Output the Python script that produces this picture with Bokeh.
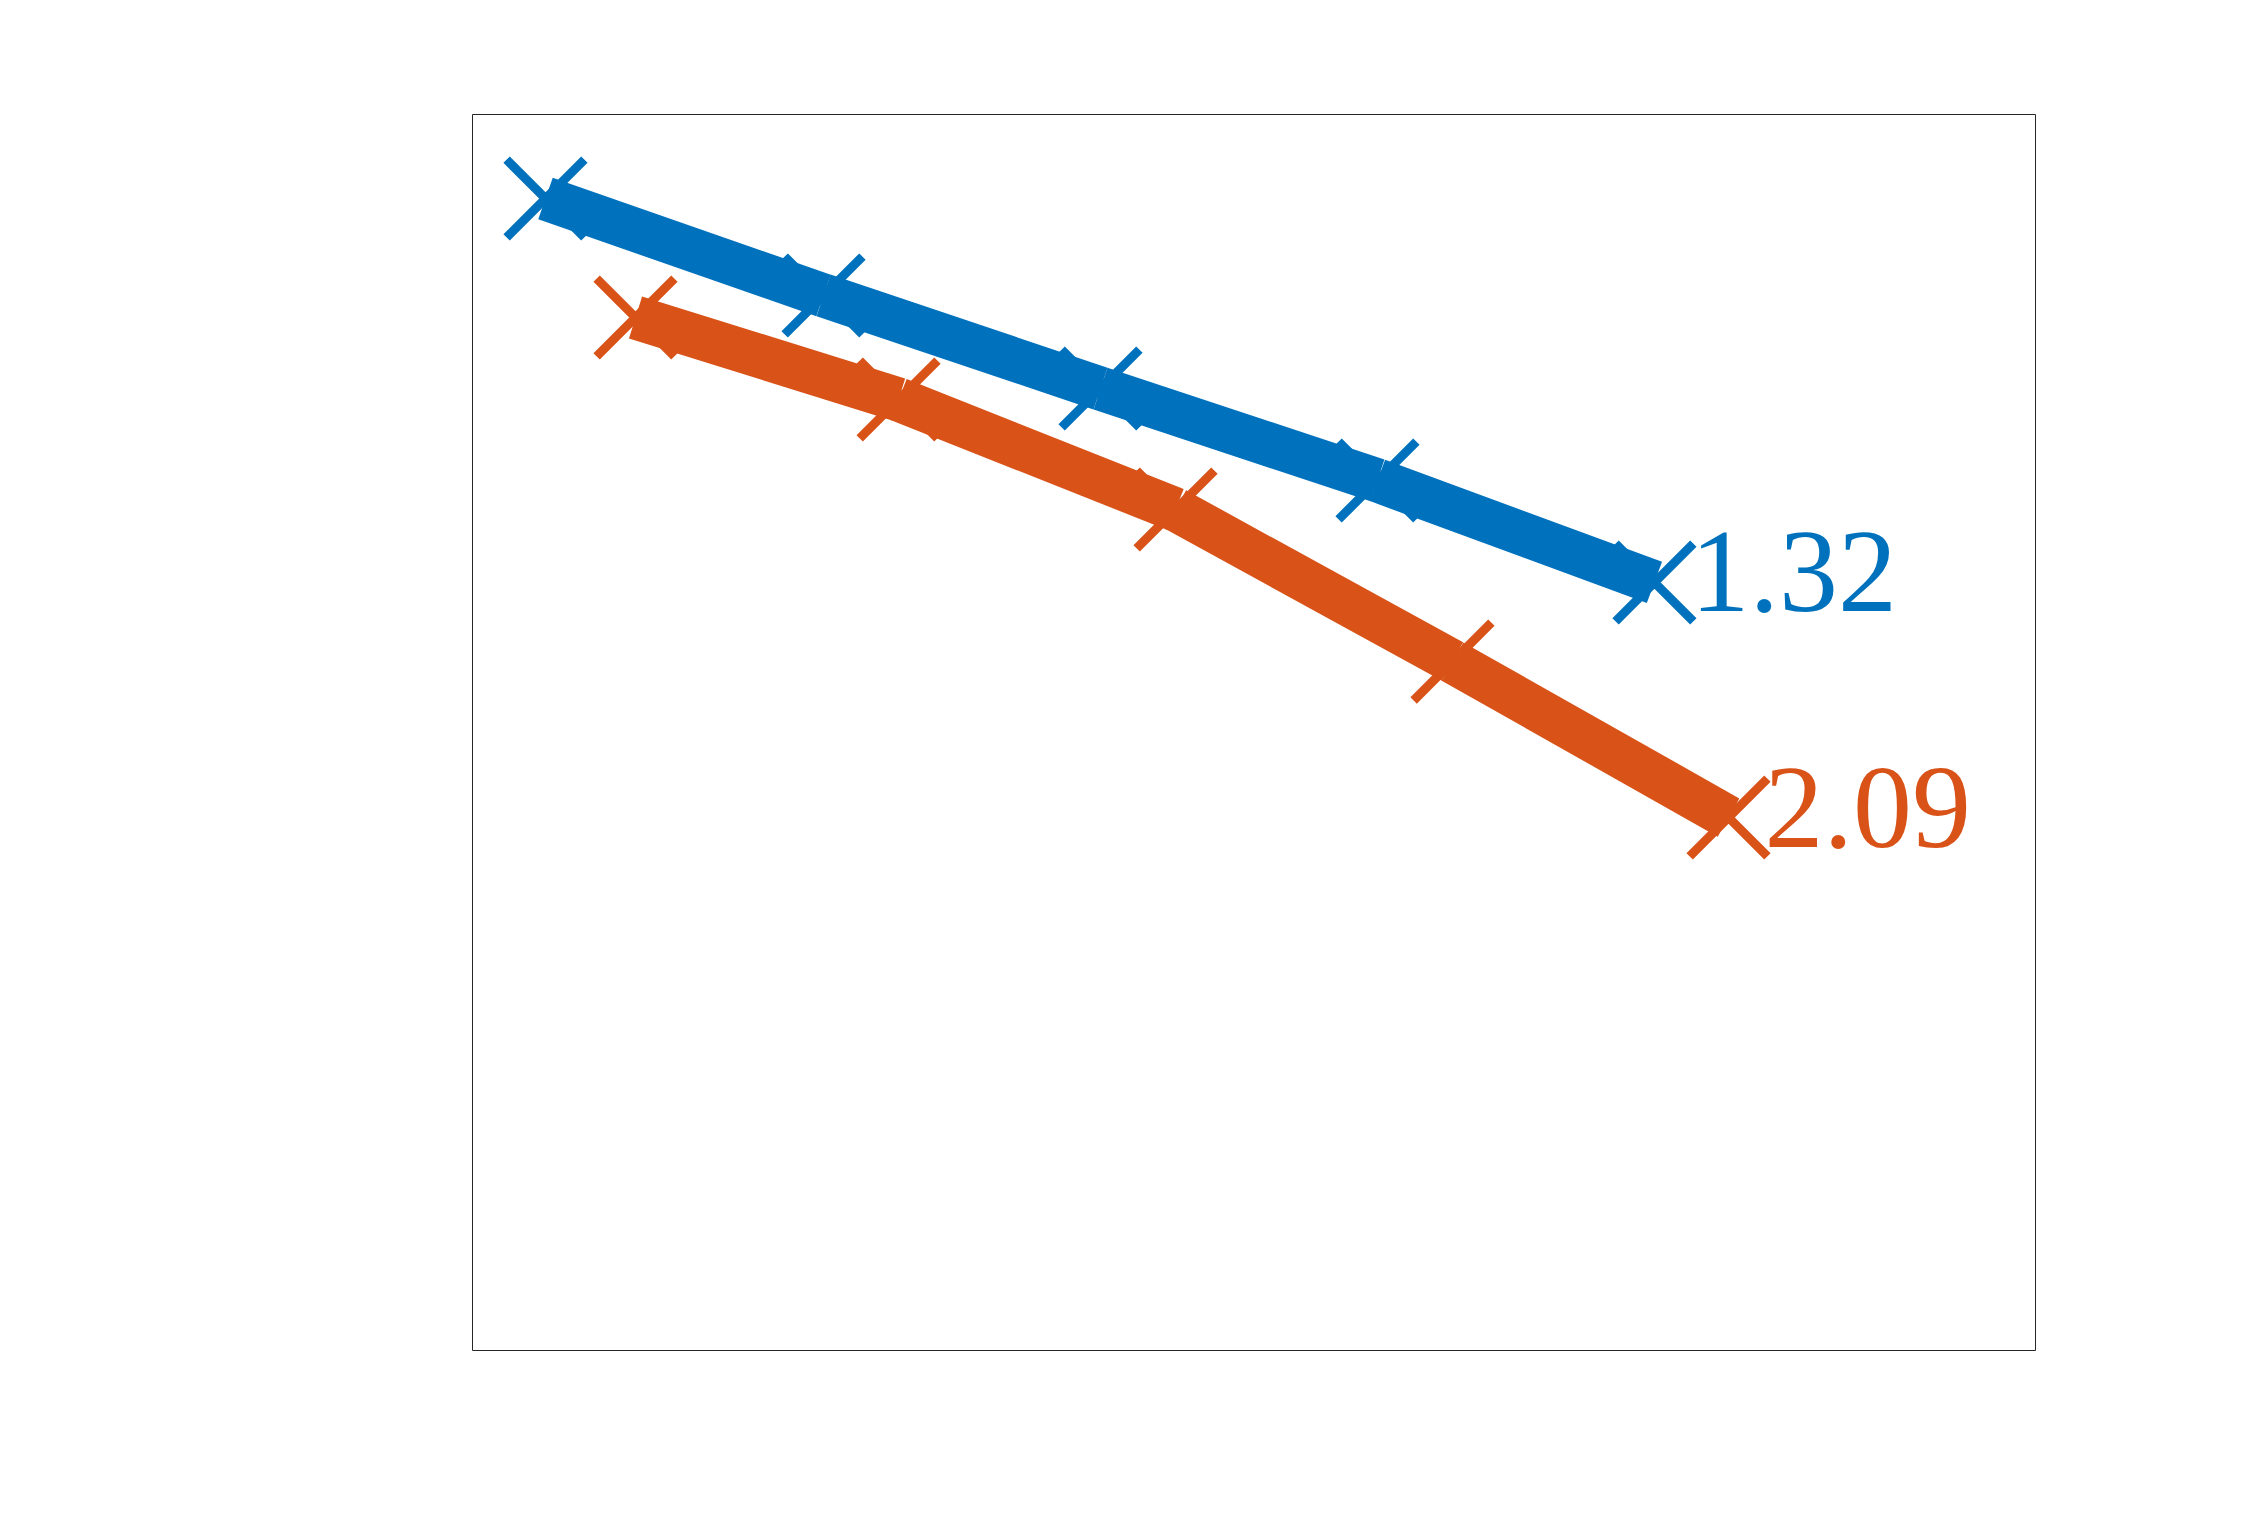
from bokeh.plotting import figure
from bokeh.models import Range1d, ColumnDataSource
from bokeh.embed import file_html
from bokeh.resources import INLINE
from bokeh.core.properties import value

# Data (axes hidden; positions in a 0-100 data space)
blue_x = [4.67, 22.46, 40.18, 57.90, 75.62]
blue_y = [93.20, 85.36, 77.83, 70.39, 62.14]
orange_x = [10.43, 27.26, 44.98, 62.70, 80.36]
orange_y = [83.58, 76.94, 68.04, 55.74, 43.12]
blue_label = "1.32"
orange_label = "2.09"

BLUE = "#0072BD"
ORANGE = "#D95319"

W, H = 2230, 1500
p = figure(width=W, height=H, output_backend="svg", toolbar_location=None,
           x_range=Range1d(0, 100), y_range=Range1d(0, 100))
p.min_border_left = 472
p.min_border_top = 114
p.min_border_right = W - 2035
p.min_border_bottom = H - 1350
p.xaxis.visible = False
p.yaxis.visible = False
p.xgrid.visible = False
p.ygrid.visible = False
p.outline_line_color = "#262626"
p.outline_line_width = 1
p.background_fill_color = "white"
p.border_fill_color = "white"

for xs, ys, col, lab in [(blue_x, blue_y, BLUE, blue_label),
                         (orange_x, orange_y, ORANGE, orange_label)]:
    seg = ColumnDataSource(dict(x0=xs[:-1], y0=ys[:-1], x1=xs[1:], y1=ys[1:]))
    p.segment(x0="x0", y0="y0", x1="x1", y1="y1", source=seg,
              line_color=col, line_width=44, line_cap="butt")
    p.scatter(xs, ys, marker="x", size=110, line_color=col, line_width=9)
    p.text(x=[xs[-1]], y=[ys[-1]], text=[lab], text_color=col,
           text_font=value("Liberation Serif"), text_font_size="118px",
           text_align="left", text_baseline="alphabetic",
           x_offset=36, y_offset=-10)

open("out.html", "w").write(file_html(p, INLINE))
